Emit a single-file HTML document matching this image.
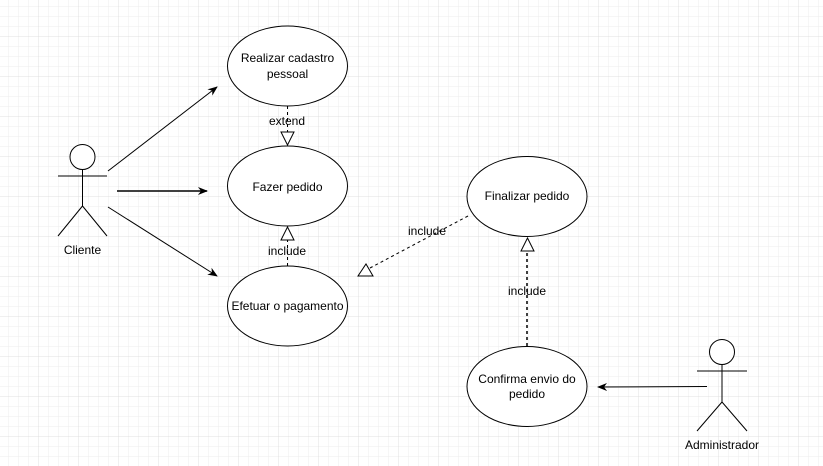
<!DOCTYPE html>
<html><head><meta charset="utf-8"><style>
html,body{margin:0;padding:0;background:#fff}
svg{display:block}
text{font-family:"Liberation Sans",Arial,sans-serif;font-size:12px;fill:#000}
</style></head><body>
<svg width="823" height="466" viewBox="0 0 823 466" xmlns="http://www.w3.org/2000/svg">
<defs>
<pattern id="g" width="10" height="10" patternUnits="userSpaceOnUse" x="8" y="6">
<path d="M0 0H10M0 0V10" stroke="#eeeeee" stroke-width="1" fill="none"/>
</pattern>
<pattern id="G" width="40" height="40" patternUnits="userSpaceOnUse" x="-2" y="-4">
<path d="M0 0H40M0 0V40" stroke="#e0e0e0" stroke-width="1" fill="none"/>
</pattern>
<marker id="a" markerWidth="10" markerHeight="10" refX="9" refY="5" orient="auto" markerUnits="userSpaceOnUse">
<path d="M0 1L10 5L0 9L3 5Z" fill="#000"/>
</marker>
</defs>
<rect width="823" height="466" fill="url(#g)"/>
<rect width="823" height="466" fill="url(#G)"/>
<g fill="#fff" stroke="#000" stroke-width="1">
<ellipse cx="287.5" cy="66" rx="60" ry="40"/>
<ellipse cx="287.5" cy="186" rx="60" ry="40"/>
<ellipse cx="287.5" cy="306" rx="60" ry="40"/>
<ellipse cx="527" cy="196.5" rx="60" ry="40"/>
<ellipse cx="527" cy="386.5" rx="60" ry="40"/>
</g>
<g stroke="#000" fill="none">
<circle cx="82.5" cy="157" r="12.5" fill="#fff"/>
<path d="M58 176H107M82.5 169.5V206M82.5 206L58 236M82.5 206L107 236"/>
<circle cx="722" cy="352" r="12.5" fill="#fff"/>
<path d="M697 371H747M722 364.5V402M722 402L697 431M722 402L747 431"/>
<path d="M108 171L217 87" marker-end="url(#a)"/>
<path d="M117 191H207" stroke-width="1.5" marker-end="url(#a)"/>
<path d="M108 207L217 276" marker-end="url(#a)"/>
<path d="M707 386.5L598 387" marker-end="url(#a)"/>
<g stroke-dasharray="3,3">
<path d="M287.5 106V132"/>
<path d="M287.5 266V240"/>
<path d="M468 216L370 268"/>
<path d="M527 346V251" stroke-width="1.5"/>
</g>
<path d="M281 132H294L287.5 145Z" fill="#fff"/>
<path d="M281 240H294L287.5 227Z" fill="#fff"/>
<path d="M521 251H534L527.5 238Z" fill="#fff"/>
<path d="M358 276H373L366 264Z" fill="#fff"/>
</g>
<g text-anchor="middle">
<text x="287.5" y="62">Realizar cadastro</text>
<text x="287.5" y="78">pessoal</text>
<text x="287.5" y="191">Fazer pedido</text>
<text x="287.5" y="310">Efetuar o pagamento</text>
<text x="527" y="200">Finalizar pedido</text>
<text x="527" y="383">Confirma envio do</text>
<text x="527" y="398">pedido</text>
<text x="82.5" y="254">Cliente</text>
<text x="722" y="449">Administrador</text>
<rect x="266" y="113" width="43" height="14" fill="#fff" opacity="0"/>
<text x="287" y="125">extend</text>
<text x="287" y="255">include</text>
<text x="427" y="235">include</text>
<text x="527" y="295">include</text>
</g>
</svg>
</body></html>
